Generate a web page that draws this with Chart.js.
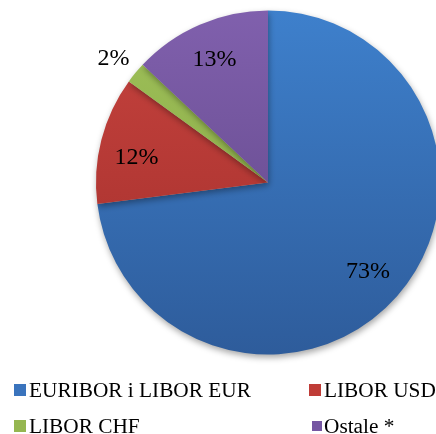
<!DOCTYPE html>
<html>
<head>
<meta charset="utf-8">
<script src="https://cdn.jsdelivr.net/npm/chart.js@4/dist/chart.umd.min.js"></script>
<style>
  html, body { margin: 0; padding: 0; background: #ffffff; }
  #wrap { width: 436px; height: 434px; }
</style>
</head>
<body>
<div id="wrap"><canvas id="c" width="436" height="434"></canvas></div>
<script>
// ---- data ----
const categories = ['EURIBOR i LIBOR EUR', 'LIBOR USD', 'LIBOR CHF', 'Ostale *'];
const shares = [73, 12, 2, 13];
const valueLabels = ['73%', '12%', '2%', '13%'];

// ---- styles ----
const topColors = ['#3e80cc', '#c6433e', '#9fc15a', '#8060ad'];
const bottomColors = ['#2e5c9b', '#a22e2b', '#82a23f', '#5e4484'];
const legendColors = ['#3a74bd', '#bf3c37', '#95b650', '#7556a2'];
const labelRadiusFactor = [0.775, 0.79, 1.165, 0.785];
const labelNudgeY = [0, 8, 3, 0];
const serif = '"Liberation Serif", "Times New Roman", serif';

function sliceGradient(ctx) {
  const chart = ctx.chart;
  const ca = chart.chartArea;
  if (!ca) return topColors[ctx.dataIndex];
  const cy = (ca.top + ca.bottom) / 2;
  const r = 172;
  const g = chart.ctx.createLinearGradient(0, cy - r, 0, cy + r);
  g.addColorStop(0, topColors[ctx.dataIndex]);
  g.addColorStop(1, bottomColors[ctx.dataIndex]);
  return g;
}

const shadowPlugin = {
  id: 'pieShadow',
  beforeDatasetsDraw(chart) {
    const c = chart.ctx;
    c.save();
    c.shadowColor = 'rgba(0,0,0,0.35)';
    c.shadowBlur = 6;
    c.shadowOffsetX = 1;
    c.shadowOffsetY = 3;
  },
  afterDatasetsDraw(chart) {
    chart.ctx.restore();
  }
};

const labelPlugin = {
  id: 'sliceLabels',
  afterDatasetsDraw(chart) {
    const c = chart.ctx;
    const meta = chart.getDatasetMeta(0);
    c.save();
    c.font = '24px ' + serif;
    c.fillStyle = '#000000';
    c.textAlign = 'center';
    c.textBaseline = 'middle';
    meta.data.forEach((arc, i) => {
      const p = arc.getProps(['x', 'y', 'startAngle', 'endAngle', 'outerRadius'], true);
      const mid = (p.startAngle + p.endAngle) / 2;
      const rr = p.outerRadius * labelRadiusFactor[i];
      c.fillText(valueLabels[i], p.x + Math.cos(mid) * rr, p.y + Math.sin(mid) * rr + 1 + labelNudgeY[i]);
    });
    c.restore();
  }
};

const legendPlugin = {
  id: 'gridLegend',
  afterDraw(chart) {
    const c = chart.ctx;
    const colX = [14, 309];
    const rowY = [390, 426];
    const boxSizes = [12, 12, 12, 10];
    c.save();
    c.font = '21.3px ' + serif;
    c.textBaseline = 'alphabetic';
    c.textAlign = 'left';
    chart.data.labels.forEach((lab, i) => {
      const col = i % 2, row = Math.floor(i / 2);
      const bs = boxSizes[i];
      const bx = colX[col] + (12 - bs) / 2 + (i === 3 ? 2 : 0);
      const by = rowY[row] - bs / 2;
      c.fillStyle = legendColors[i];
      c.fillRect(bx, by, bs, bs);
      c.fillStyle = '#000000';
      c.fillText(lab, colX[col] + 15, rowY[row] + 7);
    });
    c.restore();
  }
};

new Chart(document.getElementById('c'), {
  type: 'pie',
  data: {
    labels: categories,
    datasets: [{
      data: shares,
      backgroundColor: sliceGradient,
      borderWidth: 0,
      radius: 172
    }]
  },
  options: {
    responsive: false,
    animation: false,
    layout: { padding: { left: 100, right: 0, top: 11, bottom: 80 } },
    plugins: {
      legend: { display: false },
      tooltip: { enabled: false }
    }
  },
  plugins: [shadowPlugin, labelPlugin, legendPlugin]
});
</script>
</body>
</html>
